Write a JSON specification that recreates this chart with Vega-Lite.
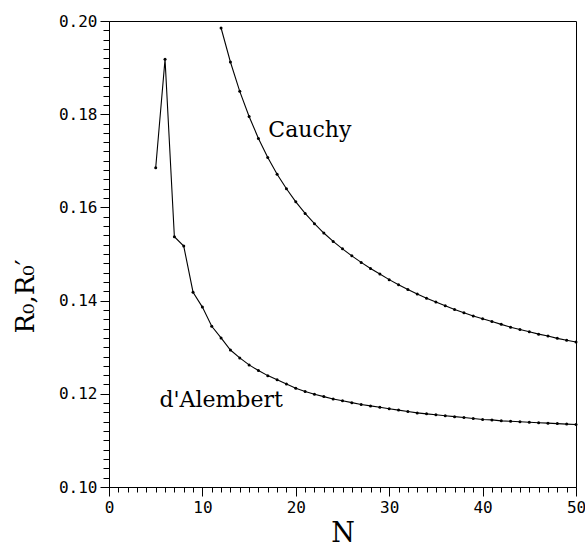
{
  "$schema": "https://vega.github.io/schema/vega-lite/v6.json",
  "autosize": "none",
  "width": 467,
  "height": 466,
  "padding": {"left": 109, "top": 21, "right": 9, "bottom": 61},
  "background": "white",
  "config": {
    "view": {"stroke": "black", "strokeWidth": 1},
    "axis": {"domainColor": "black", "tickColor": "black", "labelColor": "black", "titleColor": "black", "grid": false}
  },
  "datasets": {
    "series": [
      {"N": 5, "R": 0.1685, "series": "dAlembert"},
      {"N": 6, "R": 0.1918, "series": "dAlembert"},
      {"N": 7, "R": 0.1537, "series": "dAlembert"},
      {"N": 8, "R": 0.1517, "series": "dAlembert"},
      {"N": 9, "R": 0.1418, "series": "dAlembert"},
      {"N": 10, "R": 0.1386, "series": "dAlembert"},
      {"N": 11, "R": 0.1345, "series": "dAlembert"},
      {"N": 12, "R": 0.1320, "series": "dAlembert"},
      {"N": 13, "R": 0.1294, "series": "dAlembert"},
      {"N": 14, "R": 0.1277, "series": "dAlembert"},
      {"N": 15, "R": 0.1262, "series": "dAlembert"},
      {"N": 16, "R": 0.1250, "series": "dAlembert"},
      {"N": 17, "R": 0.1239, "series": "dAlembert"},
      {"N": 18, "R": 0.1230, "series": "dAlembert"},
      {"N": 19, "R": 0.1221, "series": "dAlembert"},
      {"N": 20, "R": 0.1212, "series": "dAlembert"},
      {"N": 21, "R": 0.1205, "series": "dAlembert"},
      {"N": 22, "R": 0.1199, "series": "dAlembert"},
      {"N": 23, "R": 0.1194, "series": "dAlembert"},
      {"N": 24, "R": 0.1189, "series": "dAlembert"},
      {"N": 25, "R": 0.1185, "series": "dAlembert"},
      {"N": 26, "R": 0.1181, "series": "dAlembert"},
      {"N": 27, "R": 0.1177, "series": "dAlembert"},
      {"N": 28, "R": 0.1174, "series": "dAlembert"},
      {"N": 29, "R": 0.1171, "series": "dAlembert"},
      {"N": 30, "R": 0.1168, "series": "dAlembert"},
      {"N": 31, "R": 0.1165, "series": "dAlembert"},
      {"N": 32, "R": 0.1162, "series": "dAlembert"},
      {"N": 33, "R": 0.1159, "series": "dAlembert"},
      {"N": 34, "R": 0.1157, "series": "dAlembert"},
      {"N": 35, "R": 0.1155, "series": "dAlembert"},
      {"N": 36, "R": 0.1153, "series": "dAlembert"},
      {"N": 37, "R": 0.1151, "series": "dAlembert"},
      {"N": 38, "R": 0.1149, "series": "dAlembert"},
      {"N": 39, "R": 0.1147, "series": "dAlembert"},
      {"N": 40, "R": 0.1145, "series": "dAlembert"},
      {"N": 41, "R": 0.1144, "series": "dAlembert"},
      {"N": 42, "R": 0.1142, "series": "dAlembert"},
      {"N": 43, "R": 0.1141, "series": "dAlembert"},
      {"N": 44, "R": 0.1140, "series": "dAlembert"},
      {"N": 45, "R": 0.1139, "series": "dAlembert"},
      {"N": 46, "R": 0.1138, "series": "dAlembert"},
      {"N": 47, "R": 0.1137, "series": "dAlembert"},
      {"N": 48, "R": 0.1136, "series": "dAlembert"},
      {"N": 49, "R": 0.1135, "series": "dAlembert"},
      {"N": 50, "R": 0.1134, "series": "dAlembert"},
      {"N": 12, "R": 0.1985, "series": "Cauchy"},
      {"N": 13, "R": 0.1912, "series": "Cauchy"},
      {"N": 14, "R": 0.1849, "series": "Cauchy"},
      {"N": 15, "R": 0.1795, "series": "Cauchy"},
      {"N": 16, "R": 0.1748, "series": "Cauchy"},
      {"N": 17, "R": 0.1707, "series": "Cauchy"},
      {"N": 18, "R": 0.1671, "series": "Cauchy"},
      {"N": 19, "R": 0.1640, "series": "Cauchy"},
      {"N": 20, "R": 0.1612, "series": "Cauchy"},
      {"N": 21, "R": 0.1587, "series": "Cauchy"},
      {"N": 22, "R": 0.1565, "series": "Cauchy"},
      {"N": 23, "R": 0.1545, "series": "Cauchy"},
      {"N": 24, "R": 0.1527, "series": "Cauchy"},
      {"N": 25, "R": 0.1511, "series": "Cauchy"},
      {"N": 26, "R": 0.1496, "series": "Cauchy"},
      {"N": 27, "R": 0.1482, "series": "Cauchy"},
      {"N": 28, "R": 0.1469, "series": "Cauchy"},
      {"N": 29, "R": 0.1457, "series": "Cauchy"},
      {"N": 30, "R": 0.1445, "series": "Cauchy"},
      {"N": 31, "R": 0.1434, "series": "Cauchy"},
      {"N": 32, "R": 0.1424, "series": "Cauchy"},
      {"N": 33, "R": 0.1414, "series": "Cauchy"},
      {"N": 34, "R": 0.1405, "series": "Cauchy"},
      {"N": 35, "R": 0.1397, "series": "Cauchy"},
      {"N": 36, "R": 0.1389, "series": "Cauchy"},
      {"N": 37, "R": 0.1381, "series": "Cauchy"},
      {"N": 38, "R": 0.1374, "series": "Cauchy"},
      {"N": 39, "R": 0.1367, "series": "Cauchy"},
      {"N": 40, "R": 0.1361, "series": "Cauchy"},
      {"N": 41, "R": 0.1355, "series": "Cauchy"},
      {"N": 42, "R": 0.1349, "series": "Cauchy"},
      {"N": 43, "R": 0.1343, "series": "Cauchy"},
      {"N": 44, "R": 0.1338, "series": "Cauchy"},
      {"N": 45, "R": 0.1333, "series": "Cauchy"},
      {"N": 46, "R": 0.1328, "series": "Cauchy"},
      {"N": 47, "R": 0.1324, "series": "Cauchy"},
      {"N": 48, "R": 0.1319, "series": "Cauchy"},
      {"N": 49, "R": 0.1315, "series": "Cauchy"},
      {"N": 50, "R": 0.1311, "series": "Cauchy"}
    ],
    "labels": [
      {"N": 21.5, "R": 0.1766, "label": "Cauchy"},
      {"N": 12.0, "R": 0.1186, "label": "d'Alembert"}
    ]
  },
  "layer": [
    {
      "data": {"name": "series"},
      "mark": {"type": "line", "color": "black", "strokeWidth": 1.1, "clip": true},
      "encoding": {
        "x": {
          "field": "N", "type": "quantitative",
          "scale": {"domain": [0, 50], "nice": false, "zero": false},
          "axis": {
            "title": "N",
            "titleFont": "DejaVu Serif", "titleFontSize": 27, "titleFontWeight": "normal",
            "titleY": 60, "titleBaseline": "bottom",
            "tickCount": 200,
            "values": [0,1,2,3,4,5,6,7,8,9,10,11,12,13,14,15,16,17,18,19,20,21,22,23,24,25,26,27,28,29,30,31,32,33,34,35,36,37,38,39,40,41,42,43,44,45,46,47,48,49,50],
            "labelExpr": "datum.value % 10 === 0 ? format(datum.value, 'd') : ''",
            "tickSize": {"condition": {"test": "datum.value % 10 === 0", "value": 9}, "value": 5},
            "labelFont": "DejaVu Sans Mono", "labelFontSize": 16, "labelPadding": 3,
            "labelFlush": false, "labelOverlap": false, "tickWidth": 1
          }
        },
        "y": {
          "field": "R", "type": "quantitative",
          "scale": {"domain": [0.10, 0.20], "nice": false, "zero": false},
          "axis": {
            "title": "R₀,R₀′",
            "titleFont": "DejaVu Serif", "titleFontSize": 26, "titleFontWeight": "normal",
            "titleAngle": -90, "titleX": -84, "titleY": 275, "titleAlign": "center", "titleBaseline": "middle",
            "tickCount": 200,
            "values": [0.1,0.102,0.104,0.106,0.108,0.11,0.112,0.114,0.116,0.118,0.12,0.122,0.124,0.126,0.128,0.13,0.132,0.134,0.136,0.138,0.14,0.142,0.144,0.146,0.148,0.15,0.152,0.154,0.156,0.158,0.16,0.162,0.164,0.166,0.168,0.17,0.172,0.174,0.176,0.178,0.18,0.182,0.184,0.186,0.188,0.19,0.192,0.194,0.196,0.198,0.2],
            "labelExpr": "round(datum.value * 1000) % 20 === 0 ? format(datum.value, '.2f') : ''",
            "tickSize": {"condition": {"test": "round(datum.value * 1000) % 20 === 0", "value": 9}, "value": 6},
            "labelFont": "DejaVu Sans Mono", "labelFontSize": 16, "labelPadding": 3,
            "labelFlush": false, "labelOverlap": false, "tickWidth": 1
          }
        },
        "detail": {"field": "series"}
      }
    },
    {
      "data": {"name": "series"},
      "mark": {"type": "point", "shape": "circle", "filled": true, "color": "black", "size": 9, "opacity": 1},
      "encoding": {
        "x": {"field": "N", "type": "quantitative"},
        "y": {"field": "R", "type": "quantitative"}
      }
    },
    {
      "data": {"name": "labels"},
      "mark": {"type": "text", "font": "DejaVu Serif", "fontSize": 22, "color": "black", "align": "center", "baseline": "middle"},
      "encoding": {
        "x": {"field": "N", "type": "quantitative"},
        "y": {"field": "R", "type": "quantitative"},
        "text": {"field": "label"}
      }
    }
  ]
}
